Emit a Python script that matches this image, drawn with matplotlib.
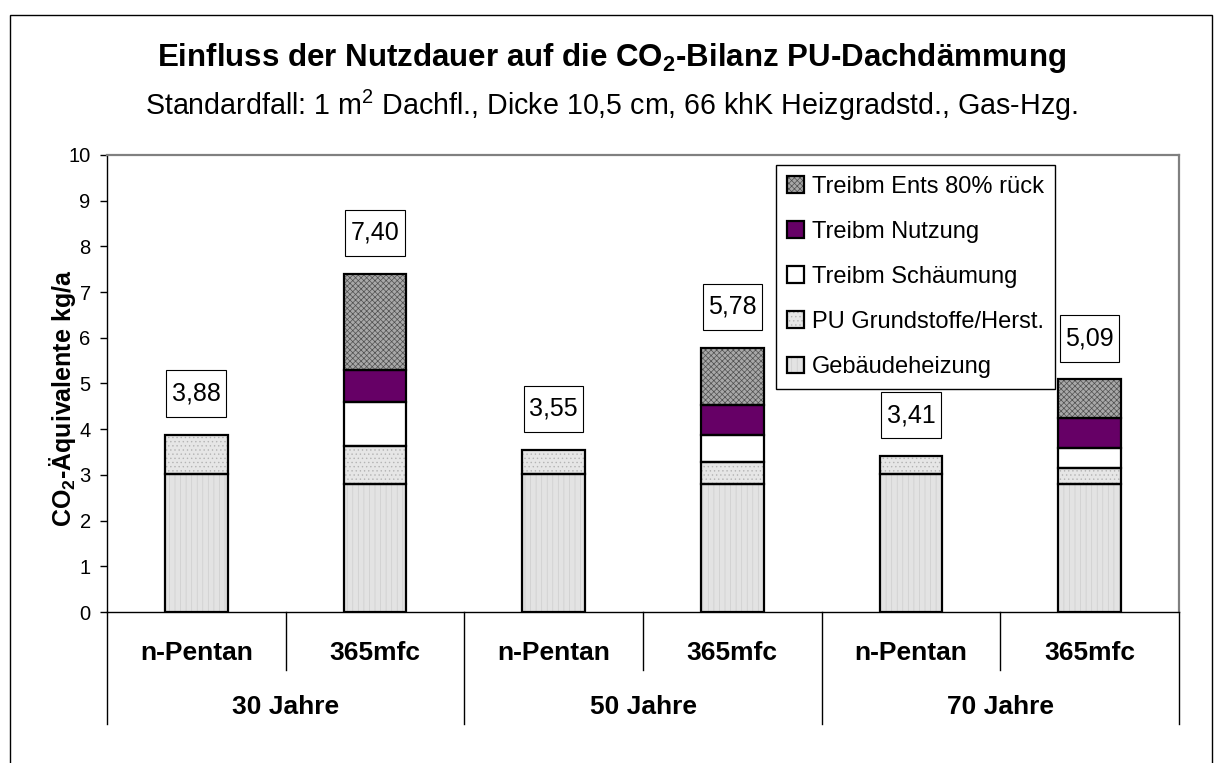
import matplotlib
matplotlib.use('Agg')
import matplotlib.pyplot as plt
import matplotlib.patches as mpatches
import matplotlib.transforms as mtransforms
from matplotlib.path import Path

plt.rcParams['font.family'] = ['Liberation Sans', 'DejaVu Sans']
plt.rcParams['mathtext.default'] = 'regular'
plt.rcParams['hatch.linewidth'] = 0.5

# ---------------- data ----------------
categories = ['n-Pentan', '365mfc', 'n-Pentan', '365mfc', 'n-Pentan', '365mfc']
groups = ['30 Jahre', '50 Jahre', '70 Jahre']
gebaeudeheizung = [3.03, 2.80, 3.03, 2.80, 3.03, 2.80]
pu_grundstoffe = [0.85, 0.83, 0.52, 0.49, 0.38, 0.35]
treibm_schaeumung = [0.00, 0.97, 0.00, 0.58, 0.00, 0.43]
treibm_nutzung = [0.00, 0.69, 0.00, 0.67, 0.00, 0.67]
treibm_ents = [0.00, 2.11, 0.00, 1.24, 0.00, 0.84]
totals = [3.88, 7.40, 3.55, 5.78, 3.41, 5.09]
series_names = ['Gebäudeheizung', 'PU Grundstoffe/Herst.', 'Treibm Schäumung',
                'Treibm Nutzung', 'Treibm Ents 80% rück']
yticks = [0, 1, 2, 3, 4, 5, 6, 7, 8, 9, 10]

series_values = [gebaeudeheizung, pu_grundstoffe, treibm_schaeumung,
                 treibm_nutzung, treibm_ents]
styles = [
    dict(fc='#e3e3e3', hatch='|||', hc='#cdcdcd'),
    dict(fc='#e6e6e6', hatch='....', hc='#b4b4b4'),
    dict(fc='white', hatch=None, hc='white'),
    dict(fc='#660066', hatch=None, hc='#660066'),
    dict(fc='#a8a8a8', hatch='xxxxxx', hc='#505050'),
]

W, H = 1223, 763
fig = plt.figure(figsize=(W / 100, H / 100), dpi=100)
fig.patch.set_facecolor('white')
ax = fig.add_axes([107 / W, 1 - 612 / H, (1179 - 107) / W, (612 - 155) / H])

xpos = list(range(len(categories)))
bw = 0.35
bottoms = [0.0] * len(categories)
handles = []
for vals, st, name in zip(series_values, styles, series_names):
    idx = [i for i, v in enumerate(vals) if v > 0]
    xs = [xpos[i] for i in idx]
    hs = [vals[i] for i in idx]
    bs = [bottoms[i] for i in idx]
    ax.bar(xs, hs, bw, bottom=bs, color=st['fc'], hatch=st['hatch'],
           edgecolor=st['hc'], linewidth=0, zorder=2)
    ax.bar(xs, hs, bw, bottom=bs, fill=False, edgecolor='black',
           linewidth=1.6, zorder=3)
    for i in idx:
        bottoms[i] += vals[i]
    h1 = mpatches.Patch(facecolor=st['fc'], hatch=st['hatch'],
                        edgecolor=st['hc'], linewidth=0)
    h2 = mpatches.Patch(fill=False, edgecolor='black', linewidth=1.6)
    handles.append((h1, h2))


def padded_box(x0, y0, width, height, mutation_size):
    px, py = 0.22 * mutation_size, 0.45 * mutation_size
    return Path([(x0 - px, y0 - py), (x0 + width + px, y0 - py),
                 (x0 + width + px, y0 + height + py), (x0 - px, y0 + height + py),
                 (x0 - px, y0 - py)], closed=True)


for i, t in enumerate(totals):
    ax.annotate(f'{t:.2f}'.replace('.', ','), xy=(xpos[i], t),
                xytext=(0, 41), textcoords='offset pixels',
                ha='center', va='center', fontsize=18,
                bbox=dict(boxstyle=padded_box, fc='white', ec='black', lw=0.8),
                zorder=5)

ax.set_xlim(-0.5, len(categories) - 0.5)
ax.set_ylim(0, 10)
ax.set_yticks(yticks)
ax.set_yticklabels([str(v) for v in yticks])
ax.set_xticks([])
ax.tick_params(axis='y', direction='out', length=4.7, width=1, pad=7,
               labelsize=14.5, color='black')
for s in ['left', 'bottom']:
    ax.spines[s].set_color('black')
    ax.spines[s].set_linewidth(1)
for s in ['top', 'right']:
    ax.spines[s].set_color('#808080')
    ax.spines[s].set_linewidth(1.6)

# multi-level category axis
blend = mtransforms.blended_transform_factory(ax.transData, ax.transAxes)
ph = 612 - 155
y_short = -(670 - 612) / ph
y_long = -(724 - 612) / ph
for k in range(len(categories) + 1):
    b = k - 0.5
    yb = y_long if k % 2 == 0 else y_short
    ax.plot([b, b], [0, yb], transform=blend, color='black', lw=1,
            clip_on=False, zorder=1)
for i, c in enumerate(categories):
    ax.text(xpos[i], -(653 - 612) / ph, c, transform=blend, ha='center',
            va='center', fontsize=19, fontweight='bold')
for g, name in enumerate(groups):
    ax.text(2 * g + 0.5, -(707 - 612) / ph, name, transform=blend,
            ha='center', va='center', fontsize=19, fontweight='bold')

# y label
fig.text(63 / W, 1 - 398 / H, r'CO$_2$-Äquivalente kg/a', rotation=90,
         ha='center', va='center', fontsize=18, fontweight='bold')

# titles
fig.text(0.5, 1 - 58 / H, r'Einfluss der Nutzdauer auf die CO$_2$-Bilanz PU-Dachdämmung',
         ha='center', va='center', fontsize=22.5, fontweight='bold')
fig.text(0.5, 1 - 105 / H,
         r'Standardfall: 1 m$^2$ Dachfl., Dicke 10,5 cm, 66 khK Heizgradstd., Gas-Hzg.',
         ha='center', va='center', fontsize=20.6)

# legend
leg = fig.legend(handles[::-1], series_names[::-1], loc='upper left',
                 bbox_to_anchor=(776 / W, 1 - 165 / H), borderaxespad=0,
                 fontsize=17, frameon=True, fancybox=False, framealpha=1,
                 edgecolor='black', handlelength=0.72, handleheight=0.72,
                 handletextpad=0.35, labelspacing=0.98, borderpad=0.45)
leg.get_frame().set_linewidth(1)

# outer chart border (bottom edge lies outside the picture)
fig.add_artist(mpatches.Rectangle((10.5 / W, -10 / H), (1212 - 10.5) / W,
                                  (H + 10 - 14.5) / H, transform=fig.transFigure,
                                  fill=False, edgecolor='black', lw=1))

fig.savefig('out.png', dpi=100)
